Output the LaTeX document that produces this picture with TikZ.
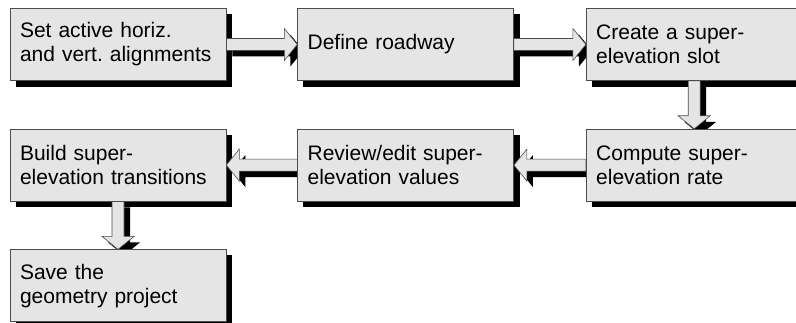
\documentclass[tikz,border=0pt]{standalone}
\usepackage{fontspec}
\setmainfont{Liberation Sans}
\usepackage{tikz}
\usetikzlibrary{positioning, calc}
\frenchspacing

\pgfdeclarelayer{shade}
\pgfdeclarelayer{links}
\pgfsetlayers{shade,links,main}

% block arrow from one anchor to another, with its shadow
\newcommand{\flowarrow}[2]{%
  \coordinate (fa-s) at (#1);
  \coordinate (fa-t) at (#2);
  \coordinate (fa-h) at ($(fa-t)!13pt!(fa-s)$);
  \foreach \lay in {shadowfill, flowbody}
    \filldraw[\lay] ($(fa-s)!6pt!90:(fa-t)$) -- ($(fa-h)!6pt!90:(fa-t)$)
      -- ($(fa-h)!16pt!90:(fa-t)$) -- (fa-t)
      -- ($(fa-h)!16pt!-90:(fa-t)$) -- ($(fa-h)!6pt!-90:(fa-t)$)
      -- ($(fa-s)!6pt!-90:(fa-t)$) -- cycle;
}

\begin{document}
\begin{tikzpicture}[
    x=1pt, y=1pt,
    stepbox/.style={draw=black!70, fill=black!10, line width=0.6pt,
        minimum width=216pt, minimum height=72pt, text width=196pt,
        inner xsep=10pt, align=left, font=\fontsize{21}{24}\selectfont},
    flowbody/.style={fill=black!10, draw=black!70, line width=0.6pt},
    shadowfill/.style={fill=black, draw=none,
        transform canvas={shift={(6pt,-6pt)}}}
]
\useasboundingbox (0,0) rectangle (796,322);

% ---- steps ----
\node[stepbox] (align) at (118,277.5) {Set active horiz.\\and vert. alignments};
\node[stepbox, right=71pt of align] (road) {Define roadway};
\node[stepbox, right=72pt of road] (slot) {Create a super-\\elevation slot};
\node[stepbox, below=48pt of slot] (rate) {Compute super-\\elevation rate};
\node[stepbox, left=72pt of rate] (review) {Review/edit super-\\elevation values};
\node[stepbox, left=71pt of review] (build) {Build super-\\elevation transitions};
\node[stepbox, below=48pt of build] (save) {Save the\\geometry project};

% ---- box shadows ----
\begin{pgfonlayer}{shade}
  \foreach \n in {align,road,slot,rate,review,build,save}
    \fill[shadowfill] (\n.south west) rectangle (\n.north east);
\end{pgfonlayer}

% ---- flow ----
\begin{pgfonlayer}{links}
  \flowarrow{align.east}{road.west}
  \flowarrow{road.east}{slot.west}
  \flowarrow{slot.south}{rate.north}
  \flowarrow{rate.west}{review.east}
  \flowarrow{review.west}{build.east}
  \flowarrow{build.south}{save.north}
\end{pgfonlayer}

\end{tikzpicture}
\end{document}
